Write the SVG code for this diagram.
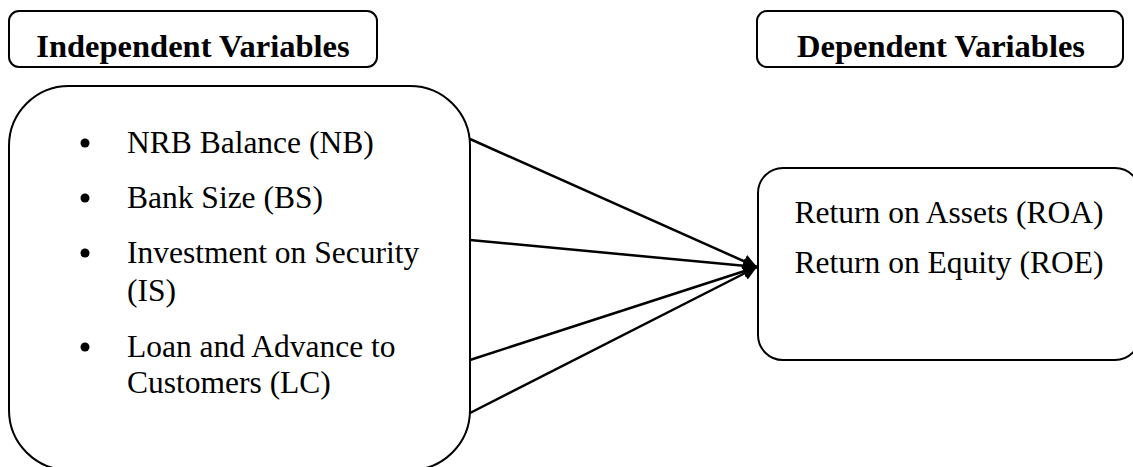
<svg xmlns="http://www.w3.org/2000/svg" width="1133" height="467" viewBox="0 0 1133 467">
<style>
.box{fill:#fff;stroke:#000;stroke-width:2}
.hd{font-family:"Liberation Serif","Times New Roman",serif;font-weight:bold;font-size:32.5px;fill:#000}
.tx{font-family:"Liberation Serif","Times New Roman",serif;font-size:31.5px;fill:#000}
.cn{stroke:#000;stroke-width:2.5;fill:none}
</style>
<defs>
<marker id="ah" markerWidth="14" markerHeight="14" viewBox="0 0 14 14" refX="14" refY="7" orient="auto" markerUnits="userSpaceOnUse">
<path d="M0,0 L14,7 L0,14 z" fill="#000"/>
</marker>
</defs>
<g id="hdr-independent">
<rect class="box" x="9" y="11" width="368" height="56" rx="10"/>
<text class="hd" x="193" y="57" text-anchor="middle">Independent Variables</text>
</g>
<g id="hdr-dependent">
<rect class="box" x="757" y="11" width="366" height="56" rx="10"/>
<text class="hd" x="941" y="57" text-anchor="middle">Dependent Variables</text>
</g>
<g id="independent">
<rect class="box" x="9" y="86" width="461" height="384" rx="60"/>
<circle cx="85" cy="143" r="4.5"/>
<circle cx="85" cy="198" r="4.5"/>
<circle cx="85" cy="253" r="4.5"/>
<circle cx="85" cy="347" r="4.5"/>
<text class="tx" x="127" y="153">NRB Balance (NB)</text>
<text class="tx" x="127" y="208">Bank Size (BS)</text>
<text class="tx" x="127" y="263">Investment on Security</text>
<text class="tx" x="127" y="301">(IS)</text>
<text class="tx" x="127" y="357">Loan and Advance to</text>
<text class="tx" x="127" y="393">Customers (LC)</text>
</g>
<g id="dependent">
<rect class="box" x="758" y="168" width="382" height="192" rx="25"/>
<text class="tx" x="949" y="223" text-anchor="middle">Return on Assets (ROA)</text>
<text class="tx" x="949" y="273" text-anchor="middle">Return on Equity (ROE)</text>
</g>
<g id="connectors">
<line class="cn" x1="470" y1="139" x2="757" y2="267" marker-end="url(#ah)"/>
<line class="cn" x1="470" y1="240" x2="757" y2="267" marker-end="url(#ah)"/>
<line class="cn" x1="470" y1="360" x2="757" y2="267" marker-end="url(#ah)"/>
<line class="cn" x1="470" y1="413" x2="757" y2="267" marker-end="url(#ah)"/>
</g>
</svg>
